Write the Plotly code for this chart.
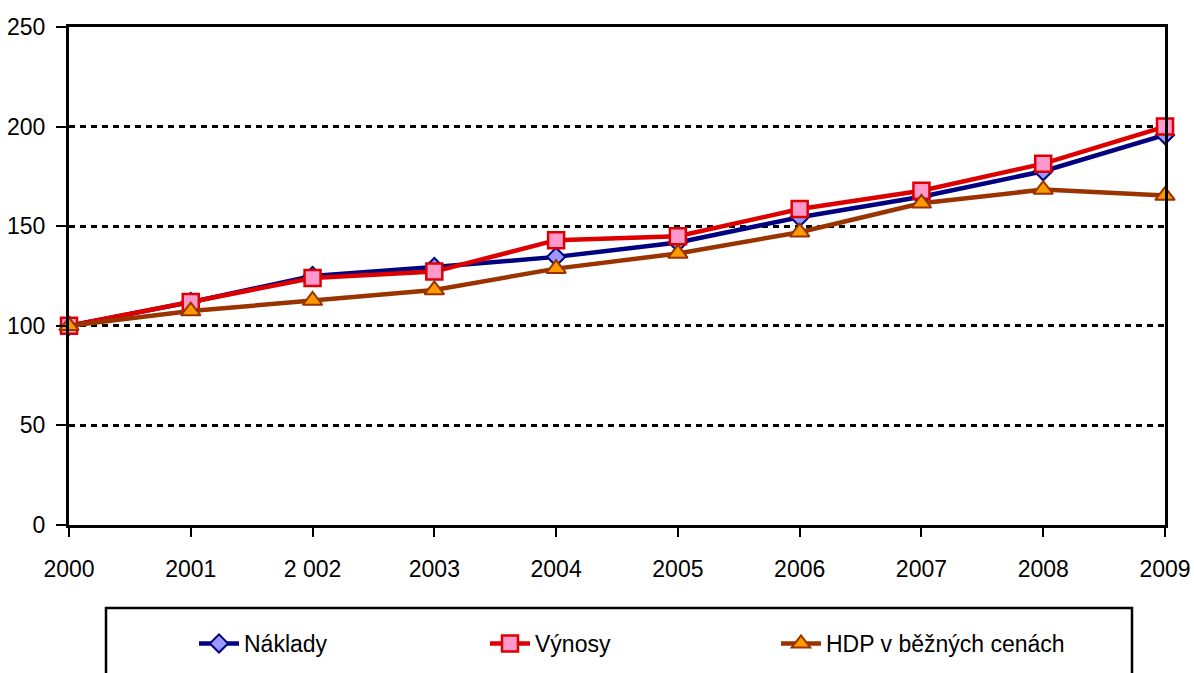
import plotly.graph_objects as go

years = [2000, 2001, 2002, 2003, 2004, 2005, 2006, 2007, 2008, 2009]
year_labels = ["2000", "2001", "2 002", "2003", "2004", "2005", "2006", "2007", "2008", "2009"]
naklady = [100, 111.9, 125, 129.5, 134.6, 141.8, 154.5, 164.8, 177.6, 195.8]
vynosy = [100, 112, 124, 127.2, 143, 145, 158.6, 167.8, 181.4, 200]
hdp = [100, 107.4, 112.7, 118, 128.7, 136.3, 147, 161.5, 168.4, 165.4]
y_ticks = [0, 50, 100, 150, 200, 250]

FONT = "Liberation Sans, Arial, sans-serif"
FS = 23

fig = go.Figure()
fig.add_trace(go.Scatter(
    x=years, y=naklady, name="Náklady", mode="lines+markers",
    line=dict(color="#000080", width=4.5),
    marker=dict(symbol="diamond", size=14, color="#9999FF", line=dict(color="#000080", width=2)),
    cliponaxis=False))
fig.add_trace(go.Scatter(
    x=years, y=vynosy, name="Výnosy", mode="lines+markers",
    line=dict(color="#DD0000", width=4.5),
    marker=dict(symbol="square", size=16, color="#FF99CC", line=dict(color="#DD0000", width=2.5)),
    cliponaxis=False))
fig.add_trace(go.Scatter(
    x=years, y=hdp, name="HDP v běžných cenách", mode="lines+markers",
    line=dict(color="#993300", width=4.5),
    marker=dict(symbol="triangle-up", size=17, color="#FF9900", line=dict(color="#993300", width=2)),
    cliponaxis=False))

L, R, T, B = 69, 29, 27, 148
W, H = 1194, 673
pw = W - L - R
ph = H - T - B

def px_x(p):
    return (p - L) / pw

def px_y(p):
    return (H - B - p) / ph

fig.add_shape(type="rect", xref="paper", yref="paper",
              x0=px_x(106), x1=px_x(1132), y0=px_y(608), y1=px_y(700),
              line=dict(color="black", width=2.5), fillcolor="rgba(0,0,0,0)", layer="below")

fig.update_layout(
    width=W, height=H,
    margin=dict(l=L, r=R, t=T, b=B, autoexpand=False),
    paper_bgcolor="white", plot_bgcolor="white",
    font=dict(family=FONT, size=FS, color="black"),
    showlegend=True,
    legend=dict(orientation="h", x=px_x(194), y=px_y(622), xanchor="left", yanchor="top",
                entrywidth=236, entrywidthmode="pixels",
                font=dict(family=FONT, size=FS, color="black"),
                bgcolor="rgba(0,0,0,0)", borderwidth=0, itemwidth=40,
                tracegroupgap=0),
    xaxis=dict(range=[2000, 2009], tickmode="array", tickvals=years, ticktext=year_labels,
               showgrid=False, zeroline=False, showline=True, linecolor="black", linewidth=3,
               mirror=True, ticks="outside", ticklen=9, tickwidth=2, tickcolor="black",
               ticklabelstandoff=12),
    yaxis=dict(range=[0, 250], tickmode="array", tickvals=y_ticks,
               showgrid=True, gridcolor="black", gridwidth=2.5, griddash="6px,5px",
               zeroline=False, showline=True, linecolor="black", linewidth=3,
               mirror=True, ticks="outside", ticklen=10, tickwidth=2, tickcolor="black",
               ticklabelstandoff=6),
)

fig.write_html("out.html", config={"displayModeBar": False},
               post_script="document.body.style.margin='0';")
